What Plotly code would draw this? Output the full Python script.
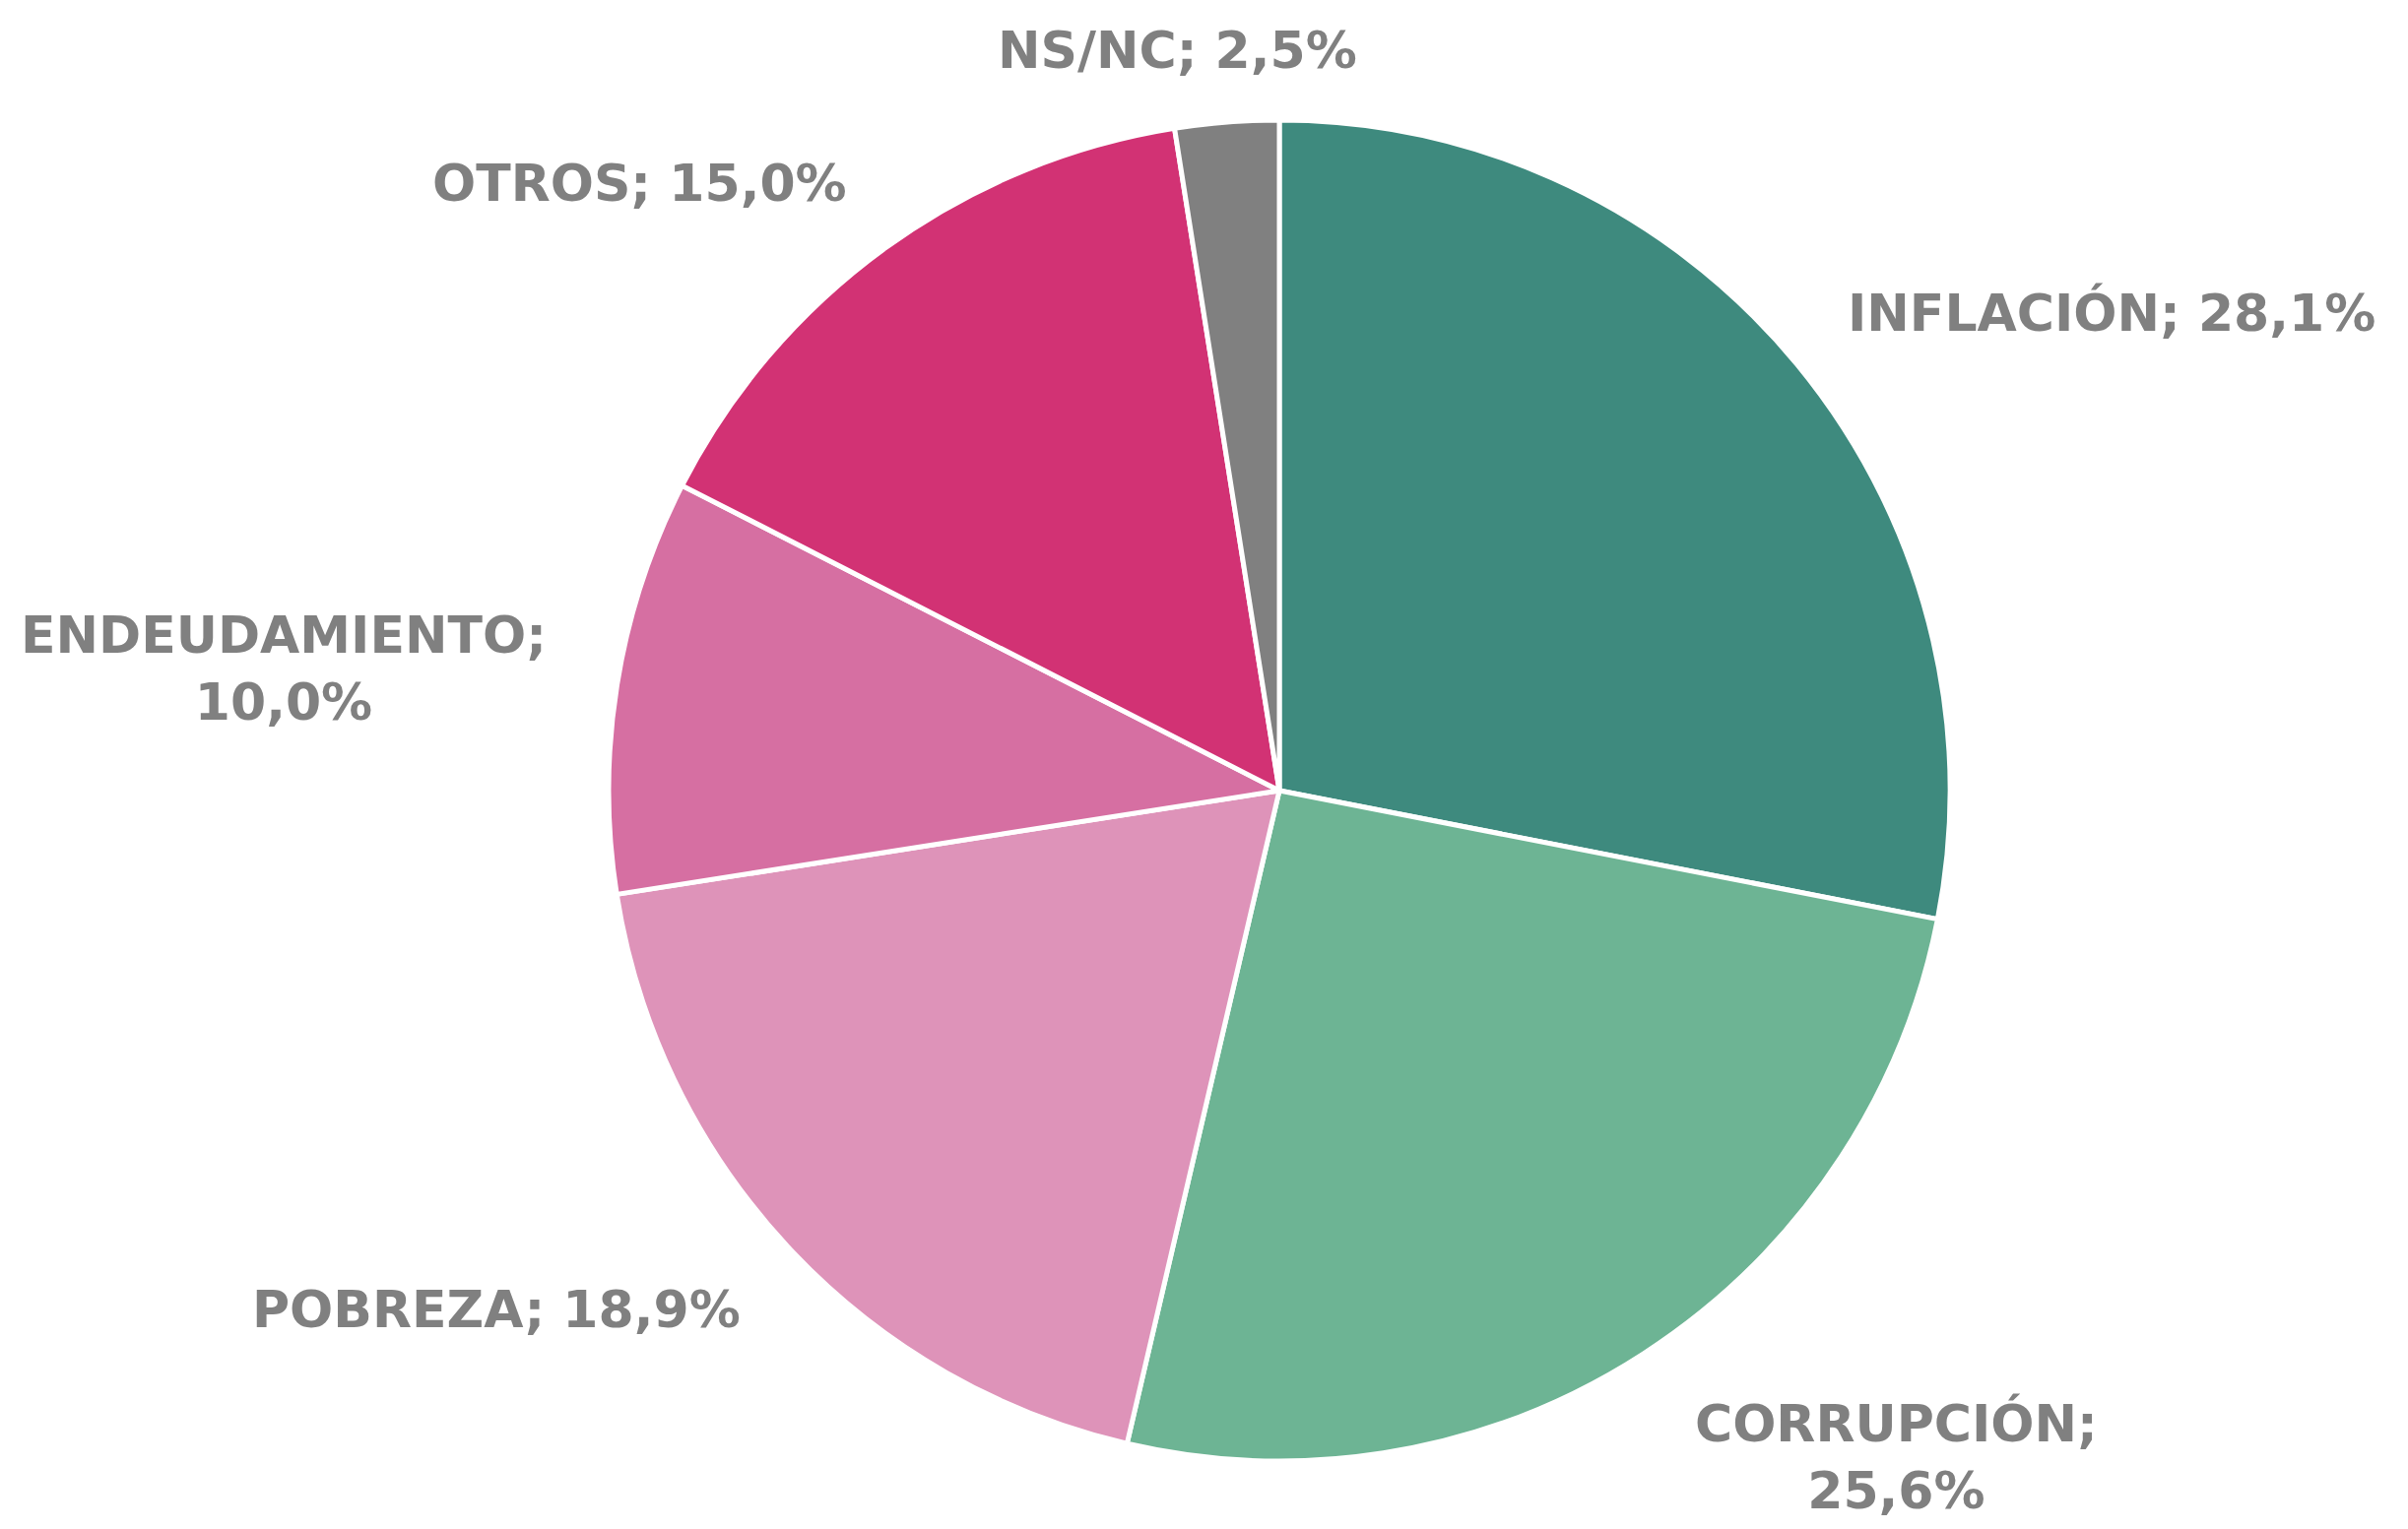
import plotly.graph_objects as go

categories = ["INFLACIÓN", "CORRUPCIÓN", "POBREZA", "ENDEUDAMIENTO", "OTROS", "NS/NC"]
values = [28.1, 25.6, 18.9, 10.0, 15.0, 2.5]
colors = ["#3E8A7E", "#6DB494", "#DE93B9", "#D66FA2", "#D23274", "#808080"]
label_texts = ["INFLACIÓN; 28,1%", "CORRUPCIÓN;<br>25,6%", "POBREZA; 18,9%",
               "ENDEUDAMIENTO;<br>10,0%", "OTROS; 15,0%", "NS/NC; 2,5%"]
# label centers in page pixels (x, y from top)
label_pos = [(2144, 317), (1926, 1479), (504, 1330), (288, 679), (649, 186), (1195, 51)]

W, H = 2445, 1553
OFF = 8  # default page body margin
cx, cy, r = 1299 - OFF, 803 - OFF, 681

fig = go.Figure(go.Pie(
    labels=categories,
    values=values,
    sort=False,
    direction="clockwise",
    rotation=0,
    marker=dict(colors=colors, line=dict(color="white", width=5)),
    textinfo="none",
    hoverinfo="label+percent",
    domain=dict(x=[(cx - r) / W, (cx + r) / W], y=[(H - cy - r) / H, (H - cy + r) / H]),
))

font_family = "DejaVu Sans"
for t, (px, py) in zip(label_texts, label_pos):
    fig.add_annotation(
        x=(px - OFF) / W, y=1 - (py - OFF) / H, xref="paper", yref="paper",
        text=f"<b>{t}</b>", showarrow=False,
        xanchor="center", yanchor="middle", align="center",
        font=dict(family=font_family, size=52, color="#808080"),
    )

fig.update_layout(
    width=W, height=H,
    margin=dict(l=0, r=0, t=0, b=0),
    paper_bgcolor="white", plot_bgcolor="white",
    showlegend=False,
)
fig.write_html("out.html")
